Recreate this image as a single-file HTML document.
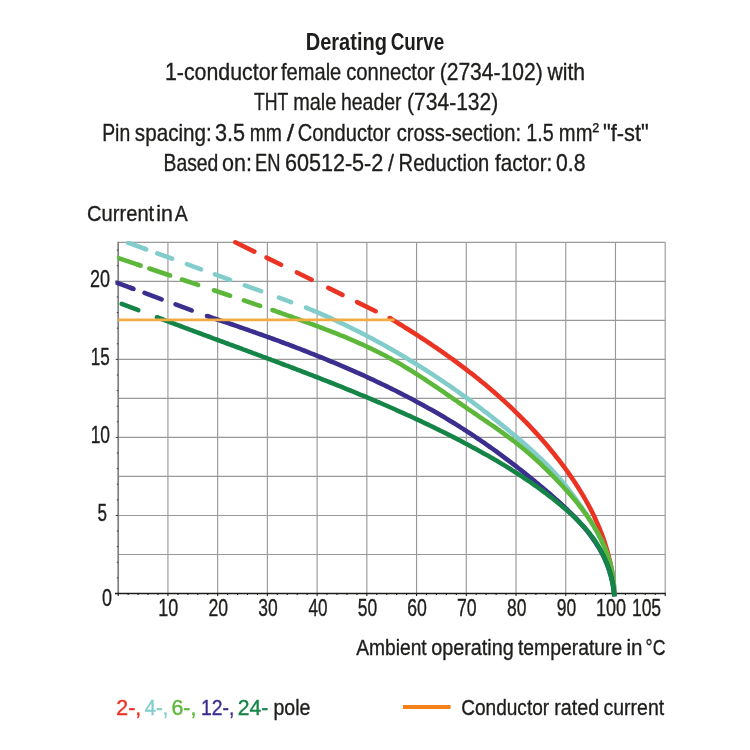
<!DOCTYPE html>
<html lang="en">
<head>
<meta charset="utf-8">
<title>Derating Curve</title>
<style>
html,body{margin:0;padding:0;background:#fff;}
body{width:750px;height:750px;overflow:hidden;}
svg{display:block;will-change:transform;}
svg text{font-family:"Liberation Sans",Arial,Helvetica,sans-serif;}
</style>
</head>
<body>
<svg width="750" height="750" viewBox="0 0 750 750">
<rect x="0" y="0" width="750" height="750" fill="#ffffff"/>
<g id="grid" stroke="#999999" stroke-width="1.15" fill="none">
<line x1="167.93" y1="242.30" x2="167.93" y2="593.50"/>
<line x1="217.65" y1="242.30" x2="217.65" y2="593.50"/>
<line x1="267.38" y1="242.30" x2="267.38" y2="593.50"/>
<line x1="317.11" y1="242.30" x2="317.11" y2="593.50"/>
<line x1="366.84" y1="242.30" x2="366.84" y2="593.50"/>
<line x1="416.56" y1="242.30" x2="416.56" y2="593.50"/>
<line x1="466.29" y1="242.30" x2="466.29" y2="593.50"/>
<line x1="516.02" y1="242.30" x2="516.02" y2="593.50"/>
<line x1="565.75" y1="242.30" x2="565.75" y2="593.50"/>
<line x1="615.47" y1="242.30" x2="615.47" y2="593.50"/>
<line x1="665.20" y1="242.30" x2="665.20" y2="593.50"/>
<line x1="118.20" y1="242.30" x2="665.20" y2="242.30"/>
<line x1="118.20" y1="281.32" x2="665.20" y2="281.32"/>
<line x1="118.20" y1="320.34" x2="665.20" y2="320.34"/>
<line x1="118.20" y1="359.37" x2="665.20" y2="359.37"/>
<line x1="118.20" y1="398.39" x2="665.20" y2="398.39"/>
<line x1="118.20" y1="437.41" x2="665.20" y2="437.41"/>
<line x1="118.20" y1="476.43" x2="665.20" y2="476.43"/>
<line x1="118.20" y1="515.46" x2="665.20" y2="515.46"/>
<line x1="118.20" y1="554.48" x2="665.20" y2="554.48"/>
</g>
<g id="axes" fill="none">
<line x1="118.20" y1="241.70" x2="118.20" y2="594.20" stroke="#808080" stroke-width="1.7"/>
<g stroke="#3a3a3a" stroke-width="1">
<line x1="115.80" y1="593.50" x2="118.20" y2="593.50"/>
<line x1="116.80" y1="577.89" x2="118.20" y2="577.89"/>
<line x1="116.80" y1="562.28" x2="118.20" y2="562.28"/>
<line x1="116.80" y1="546.67" x2="118.20" y2="546.67"/>
<line x1="116.80" y1="531.06" x2="118.20" y2="531.06"/>
<line x1="115.80" y1="515.46" x2="118.20" y2="515.46"/>
<line x1="116.80" y1="499.85" x2="118.20" y2="499.85"/>
<line x1="116.80" y1="484.24" x2="118.20" y2="484.24"/>
<line x1="116.80" y1="468.63" x2="118.20" y2="468.63"/>
<line x1="116.80" y1="453.02" x2="118.20" y2="453.02"/>
<line x1="115.80" y1="437.41" x2="118.20" y2="437.41"/>
<line x1="116.80" y1="421.80" x2="118.20" y2="421.80"/>
<line x1="116.80" y1="406.19" x2="118.20" y2="406.19"/>
<line x1="116.80" y1="390.58" x2="118.20" y2="390.58"/>
<line x1="116.80" y1="374.98" x2="118.20" y2="374.98"/>
<line x1="115.80" y1="359.37" x2="118.20" y2="359.37"/>
<line x1="116.80" y1="343.76" x2="118.20" y2="343.76"/>
<line x1="116.80" y1="328.15" x2="118.20" y2="328.15"/>
<line x1="116.80" y1="312.54" x2="118.20" y2="312.54"/>
<line x1="116.80" y1="296.93" x2="118.20" y2="296.93"/>
<line x1="115.80" y1="281.32" x2="118.20" y2="281.32"/>
<line x1="116.80" y1="265.71" x2="118.20" y2="265.71"/>
<line x1="116.80" y1="250.10" x2="118.20" y2="250.10"/>
</g>
<line x1="115.00" y1="593.50" x2="665.80" y2="593.50" stroke="#1d1d1b" stroke-width="1.4"/>
<g stroke="#1d1d1b" stroke-width="1.1">
<line x1="118.20" y1="593.50" x2="118.20" y2="595.90"/>
<line x1="128.15" y1="593.50" x2="128.15" y2="595.00"/>
<line x1="138.09" y1="593.50" x2="138.09" y2="595.00"/>
<line x1="148.04" y1="593.50" x2="148.04" y2="595.00"/>
<line x1="157.98" y1="593.50" x2="157.98" y2="595.00"/>
<line x1="167.93" y1="593.50" x2="167.93" y2="595.90"/>
<line x1="177.87" y1="593.50" x2="177.87" y2="595.00"/>
<line x1="187.82" y1="593.50" x2="187.82" y2="595.00"/>
<line x1="197.76" y1="593.50" x2="197.76" y2="595.00"/>
<line x1="207.71" y1="593.50" x2="207.71" y2="595.00"/>
<line x1="217.65" y1="593.50" x2="217.65" y2="595.90"/>
<line x1="227.60" y1="593.50" x2="227.60" y2="595.00"/>
<line x1="237.55" y1="593.50" x2="237.55" y2="595.00"/>
<line x1="247.49" y1="593.50" x2="247.49" y2="595.00"/>
<line x1="257.44" y1="593.50" x2="257.44" y2="595.00"/>
<line x1="267.38" y1="593.50" x2="267.38" y2="595.90"/>
<line x1="277.33" y1="593.50" x2="277.33" y2="595.00"/>
<line x1="287.27" y1="593.50" x2="287.27" y2="595.00"/>
<line x1="297.22" y1="593.50" x2="297.22" y2="595.00"/>
<line x1="307.16" y1="593.50" x2="307.16" y2="595.00"/>
<line x1="317.11" y1="593.50" x2="317.11" y2="595.90"/>
<line x1="327.05" y1="593.50" x2="327.05" y2="595.00"/>
<line x1="337.00" y1="593.50" x2="337.00" y2="595.00"/>
<line x1="346.95" y1="593.50" x2="346.95" y2="595.00"/>
<line x1="356.89" y1="593.50" x2="356.89" y2="595.00"/>
<line x1="366.84" y1="593.50" x2="366.84" y2="595.90"/>
<line x1="376.78" y1="593.50" x2="376.78" y2="595.00"/>
<line x1="386.73" y1="593.50" x2="386.73" y2="595.00"/>
<line x1="396.67" y1="593.50" x2="396.67" y2="595.00"/>
<line x1="406.62" y1="593.50" x2="406.62" y2="595.00"/>
<line x1="416.56" y1="593.50" x2="416.56" y2="595.90"/>
<line x1="426.51" y1="593.50" x2="426.51" y2="595.00"/>
<line x1="436.45" y1="593.50" x2="436.45" y2="595.00"/>
<line x1="446.40" y1="593.50" x2="446.40" y2="595.00"/>
<line x1="456.35" y1="593.50" x2="456.35" y2="595.00"/>
<line x1="466.29" y1="593.50" x2="466.29" y2="595.90"/>
<line x1="476.24" y1="593.50" x2="476.24" y2="595.00"/>
<line x1="486.18" y1="593.50" x2="486.18" y2="595.00"/>
<line x1="496.13" y1="593.50" x2="496.13" y2="595.00"/>
<line x1="506.07" y1="593.50" x2="506.07" y2="595.00"/>
<line x1="516.02" y1="593.50" x2="516.02" y2="595.90"/>
<line x1="525.96" y1="593.50" x2="525.96" y2="595.00"/>
<line x1="535.91" y1="593.50" x2="535.91" y2="595.00"/>
<line x1="545.85" y1="593.50" x2="545.85" y2="595.00"/>
<line x1="555.80" y1="593.50" x2="555.80" y2="595.00"/>
<line x1="565.75" y1="593.50" x2="565.75" y2="595.90"/>
<line x1="575.69" y1="593.50" x2="575.69" y2="595.00"/>
<line x1="585.64" y1="593.50" x2="585.64" y2="595.00"/>
<line x1="595.58" y1="593.50" x2="595.58" y2="595.00"/>
<line x1="605.53" y1="593.50" x2="605.53" y2="595.00"/>
<line x1="615.47" y1="593.50" x2="615.47" y2="595.90"/>
<line x1="625.42" y1="593.50" x2="625.42" y2="595.00"/>
<line x1="635.36" y1="593.50" x2="635.36" y2="595.00"/>
<line x1="645.31" y1="593.50" x2="645.31" y2="595.00"/>
<line x1="655.25" y1="593.50" x2="655.25" y2="595.00"/>
<line x1="665.20" y1="593.50" x2="665.20" y2="595.90"/>
</g>
</g>
<defs>
<clipPath id="clip-blue"><rect x="100" y="240.9" width="600" height="400"/></clipPath>
<clipPath id="clip-lgreen"><rect x="117.3" y="200" width="600" height="400"/></clipPath>
<clipPath id="clip-purple"><rect x="115.4" y="280.6" width="600" height="400"/></clipPath>
</defs>
<g id="curves">
<line x1="235.3" y1="242.3" x2="254.3" y2="251.6" stroke="#EA3323" stroke-width="4.6" stroke-linecap="round"/>
<line x1="266.5" y1="257.6" x2="281.1" y2="264.8" stroke="#EA3323" stroke-width="4.6" stroke-linecap="round"/>
<line x1="296.9" y1="272.5" x2="311.7" y2="279.8" stroke="#EA3323" stroke-width="4.6" stroke-linecap="round"/>
<line x1="328.3" y1="287.9" x2="342.5" y2="294.9" stroke="#EA3323" stroke-width="4.6" stroke-linecap="round"/>
<line x1="357.1" y1="302.1" x2="375.7" y2="311.2" stroke="#EA3323" stroke-width="4.6" stroke-linecap="round"/>
<path d="M389.6,318.0 L391.8,319.3 L393.9,320.6 L396.0,321.9 L398.2,323.2 L400.3,324.5 L402.5,325.8 L404.6,327.2 L406.7,328.5 L408.8,329.8 L411.0,331.2 L413.1,332.5 L415.2,333.9 L417.3,335.2 L419.4,336.6 L421.5,338.0 L423.6,339.3 L425.7,340.7 L427.8,342.1 L429.9,343.5 L431.9,344.9 L434.0,346.3 L436.1,347.7 L438.1,349.1 L440.2,350.5 L442.2,352.0 L444.3,353.4 L446.3,354.9 L448.4,356.3 L450.4,357.8 L452.4,359.2 L454.4,360.7 L456.4,362.2 L458.4,363.6 L460.4,365.1 L462.4,366.6 L464.4,368.1 L466.4,369.6 L468.4,371.2 L470.3,372.7 L472.3,374.2 L474.3,375.7 L476.2,377.3 L478.1,378.8 L480.1,380.4 L482.0,382.0 L483.9,383.5 L485.8,385.1 L487.7,386.7 L489.6,388.3 L491.5,389.9 L493.4,391.5 L495.3,393.2 L497.1,394.8 L499.0,396.4 L500.8,398.1 L502.7,399.8 L504.5,401.4 L506.3,403.1 L508.2,404.8 L510.0,406.5 L511.8,408.2 L513.6,409.9 L515.3,411.6 L517.1,413.3 L518.9,415.1 L520.6,416.8 L522.4,418.6 L524.1,420.3 L525.9,422.1 L527.6,423.9 L529.3,425.7 L531.0,427.5 L532.7,429.3 L534.4,431.1 L536.0,432.9 L537.7,434.7 L539.3,436.6 L541.0,438.4 L542.6,440.3 L544.2,442.2 L545.9,444.0 L547.5,445.9 L549.0,447.8 L550.6,449.7 L552.2,451.7 L553.8,453.6 L555.3,455.5 L556.8,457.5 L558.4,459.4 L559.9,461.4 L561.4,463.3 L562.9,465.3 L564.4,467.3 L565.8,469.3 L567.3,471.3 L568.7,473.4 L570.1,475.4 L571.5,477.4 L572.9,479.5 L574.3,481.5 L575.7,483.6 L577.0,485.7 L578.3,487.8 L579.6,489.9 L580.9,492.0 L582.2,494.1 L583.5,496.2 L584.7,498.3 L585.9,500.5 L587.1,502.6 L588.3,504.8 L589.4,507.0 L590.6,509.1 L591.7,511.3 L592.8,513.5 L593.9,515.7 L594.9,518.0 L595.9,520.2 L596.9,522.4 L597.9,524.7 L598.9,526.9 L599.8,529.2 L600.7,531.5 L601.6,533.7 L602.5,536.0 L603.3,538.3 L604.1,540.7 L604.9,543.0 L605.6,545.3 L606.3,547.7 L607.0,550.0 L607.7,552.4 L608.3,554.7 L608.9,557.1 L609.5,559.5 L610.1,561.9 L610.6,564.3 L611.1,566.7 L611.5,569.2 L612.0,571.6 L612.3,574.1 L612.7,576.5 L613.0,579.0 L613.3,581.5 L613.6,584.0 L613.8,586.5 L614.0,589.0 L614.2,591.5 L614.3,594.0" fill="none" stroke="#EA3323" stroke-width="4.6" stroke-linecap="butt" stroke-linejoin="round"/>
<circle cx="389.6" cy="318.0" r="2.30" fill="#EA3323"/>
<line x1="126.4" y1="242.0" x2="146.3" y2="249.3" stroke="#82CDCB" stroke-width="4.6" stroke-linecap="butt" clip-path="url(#clip-blue)"/>
<line x1="143.3" y1="248.2" x2="146.3" y2="249.3" stroke="#82CDCB" stroke-width="4.6" stroke-linecap="round"/>
<line x1="157.3" y1="253.3" x2="172.1" y2="258.7" stroke="#82CDCB" stroke-width="4.6" stroke-linecap="round"/>
<line x1="186.9" y1="264.1" x2="201.1" y2="269.3" stroke="#82CDCB" stroke-width="4.6" stroke-linecap="round"/>
<line x1="214.9" y1="274.3" x2="230.1" y2="279.9" stroke="#82CDCB" stroke-width="4.6" stroke-linecap="round"/>
<line x1="244.9" y1="285.3" x2="261.1" y2="291.2" stroke="#82CDCB" stroke-width="4.6" stroke-linecap="round"/>
<line x1="278.9" y1="297.7" x2="291.1" y2="302.2" stroke="#82CDCB" stroke-width="4.6" stroke-linecap="round"/>
<path d="M306.0,307.6 L308.3,308.5 L310.6,309.5 L312.9,310.5 L315.2,311.4 L317.5,312.4 L319.8,313.4 L322.0,314.4 L324.3,315.4 L326.6,316.4 L328.9,317.4 L331.2,318.4 L333.4,319.5 L335.7,320.5 L337.9,321.6 L340.2,322.6 L342.5,323.7 L344.7,324.8 L347.0,325.9 L349.2,327.0 L351.5,328.1 L353.7,329.2 L355.9,330.3 L358.2,331.4 L360.4,332.5 L362.6,333.7 L364.9,334.8 L367.1,336.0 L369.3,337.2 L371.5,338.3 L373.7,339.5 L375.9,340.7 L378.1,341.9 L380.3,343.1 L382.5,344.3 L384.7,345.5 L386.9,346.7 L389.1,348.0 L391.3,349.2 L393.4,350.4 L395.6,351.7 L397.8,353.0 L399.9,354.2 L402.1,355.5 L404.3,356.8 L406.4,358.1 L408.6,359.4 L410.7,360.7 L412.9,362.0 L415.0,363.3 L417.1,364.6 L419.3,365.9 L421.4,367.3 L423.5,368.6 L425.6,370.0 L427.7,371.3 L429.8,372.7 L431.9,374.0 L434.0,375.4 L436.1,376.8 L438.2,378.2 L440.3,379.6 L442.4,381.0 L444.5,382.4 L446.5,383.8 L448.6,385.2 L450.7,386.6 L452.7,388.0 L454.8,389.5 L456.8,390.9 L458.9,392.4 L460.9,393.8 L463.0,395.3 L465.0,396.7 L467.0,398.2 L469.0,399.7 L471.1,401.2 L473.1,402.6 L475.1,404.1 L477.1,405.6 L479.1,407.1 L481.1,408.6 L483.1,410.2 L485.0,411.7 L487.0,413.2 L489.0,414.7 L491.0,416.3 L492.9,417.8 L494.9,419.3 L496.8,420.9 L498.8,422.4 L500.7,424.0 L502.6,425.6 L504.6,427.1 L506.5,428.7 L508.4,430.3 L510.3,431.9 L512.2,433.5 L514.1,435.0 L516.0,436.6 L517.9,438.2 L519.8,439.8 L521.7,441.5 L523.6,443.1 L525.4,444.7 L527.3,446.3 L529.1,448.0 L531.0,449.6 L532.8,451.3 L534.6,452.9 L536.4,454.6 L538.2,456.3 L540.0,458.0 L541.8,459.7 L543.6,461.4 L545.3,463.2 L547.1,464.9 L548.8,466.7 L550.5,468.4 L552.2,470.2 L553.9,472.0 L555.5,473.8 L557.2,475.7 L558.8,477.5 L560.4,479.4 L562.0,481.3 L563.6,483.2 L565.1,485.1 L566.7,487.0 L568.2,489.0 L569.7,490.9 L571.2,492.9 L572.7,494.9 L574.2,496.9 L575.7,498.9 L577.1,500.9 L578.6,503.0 L580.0,505.0 L581.5,507.1 L582.9,509.1 L584.3,511.2 L585.7,513.3 L587.1,515.4 L588.4,517.5 L589.8,519.7 L591.1,521.8 L592.4,523.9 L593.7,526.1 L594.9,528.3 L596.1,530.5 L597.3,532.7 L598.5,534.9 L599.6,537.1 L600.7,539.3 L601.8,541.6 L602.8,543.8 L603.8,546.1 L604.8,548.4 L605.7,550.7 L606.6,553.0 L607.4,555.3 L608.2,557.7 L609.0,560.0 L609.7,562.4 L610.4,564.8 L611.0,567.2 L611.6,569.6 L612.1,572.0 L612.5,574.5 L612.9,576.9 L613.3,579.4 L613.6,581.9 L613.8,584.4 L614.0,586.9 L614.1,589.4 L614.2,591.9 L614.2,594.5" fill="none" stroke="#82CDCB" stroke-width="4.6" stroke-linecap="butt" stroke-linejoin="round"/>
<circle cx="306.0" cy="307.6" r="2.30" fill="#82CDCB"/>
<line x1="116.0" y1="257.3" x2="140.7" y2="265.6" stroke="#5CB73A" stroke-width="4.6" stroke-linecap="butt" clip-path="url(#clip-lgreen)"/>
<line x1="137.7" y1="264.6" x2="140.7" y2="265.6" stroke="#5CB73A" stroke-width="4.6" stroke-linecap="round"/>
<line x1="149.3" y1="268.5" x2="170.1" y2="275.5" stroke="#5CB73A" stroke-width="4.6" stroke-linecap="round"/>
<line x1="181.9" y1="279.5" x2="198.1" y2="284.9" stroke="#5CB73A" stroke-width="4.6" stroke-linecap="round"/>
<line x1="213.9" y1="290.3" x2="230.1" y2="295.7" stroke="#5CB73A" stroke-width="4.6" stroke-linecap="round"/>
<line x1="243.9" y1="300.4" x2="260.1" y2="305.9" stroke="#5CB73A" stroke-width="4.6" stroke-linecap="round"/>
<path d="M272.4,310.0 L274.8,310.8 L277.1,311.7 L279.5,312.5 L281.8,313.4 L284.2,314.2 L286.6,315.1 L288.9,315.9 L291.3,316.7 L293.7,317.6 L296.0,318.4 L298.4,319.3 L300.8,320.1 L303.1,321.0 L305.5,321.8 L307.8,322.7 L310.2,323.6 L312.6,324.4 L314.9,325.3 L317.3,326.2 L319.6,327.1 L322.0,328.0 L324.4,328.9 L326.7,329.8 L329.0,330.7 L331.4,331.6 L333.7,332.5 L336.1,333.4 L338.4,334.3 L340.7,335.3 L343.1,336.2 L345.4,337.2 L347.7,338.2 L350.0,339.1 L352.3,340.1 L354.6,341.1 L356.9,342.1 L359.2,343.1 L361.5,344.2 L363.8,345.2 L366.1,346.3 L368.3,347.3 L370.6,348.4 L372.9,349.5 L375.1,350.6 L377.4,351.7 L379.6,352.8 L381.8,354.0 L384.1,355.1 L386.3,356.3 L388.5,357.5 L390.7,358.6 L392.9,359.9 L395.1,361.1 L397.2,362.3 L399.4,363.6 L401.6,364.8 L403.7,366.1 L405.9,367.4 L408.0,368.7 L410.1,370.0 L412.3,371.3 L414.4,372.7 L416.5,374.0 L418.6,375.4 L420.7,376.7 L422.9,378.1 L425.0,379.5 L427.0,380.9 L429.1,382.3 L431.2,383.7 L433.3,385.1 L435.4,386.5 L437.5,387.9 L439.6,389.3 L441.6,390.7 L443.7,392.1 L445.8,393.6 L447.9,395.0 L449.9,396.4 L452.0,397.8 L454.1,399.3 L456.1,400.7 L458.2,402.1 L460.3,403.6 L462.3,405.0 L464.4,406.4 L466.5,407.8 L468.5,409.3 L470.6,410.7 L472.7,412.1 L474.8,413.5 L476.8,414.9 L478.9,416.3 L481.0,417.8 L483.0,419.2 L485.1,420.6 L487.2,422.0 L489.2,423.4 L491.3,424.8 L493.3,426.2 L495.4,427.7 L497.4,429.1 L499.5,430.5 L501.5,432.0 L503.5,433.4 L505.5,434.9 L507.5,436.3 L509.5,437.8 L511.5,439.3 L513.5,440.8 L515.4,442.3 L517.4,443.8 L519.3,445.4 L521.2,446.9 L523.1,448.5 L525.0,450.1 L526.9,451.7 L528.8,453.3 L530.6,454.9 L532.5,456.5 L534.3,458.2 L536.2,459.9 L538.0,461.5 L539.8,463.2 L541.6,464.9 L543.4,466.7 L545.2,468.4 L547.0,470.1 L548.8,471.9 L550.5,473.6 L552.3,475.4 L554.1,477.2 L555.8,479.0 L557.6,480.8 L559.3,482.6 L561.1,484.5 L562.8,486.3 L564.5,488.2 L566.2,490.1 L567.9,492.0 L569.6,493.9 L571.3,495.8 L572.9,497.7 L574.5,499.6 L576.2,501.6 L577.8,503.6 L579.3,505.5 L580.9,507.5 L582.4,509.5 L583.9,511.6 L585.4,513.6 L586.9,515.6 L588.3,517.7 L589.7,519.8 L591.1,521.9 L592.4,524.0 L593.7,526.1 L595.0,528.2 L596.3,530.4 L597.5,532.5 L598.7,534.7 L599.8,536.9 L601.0,539.1 L602.0,541.4 L603.1,543.6 L604.1,545.9 L605.0,548.1 L605.9,550.4 L606.8,552.7 L607.7,555.0 L608.4,557.4 L609.2,559.7 L609.9,562.1 L610.5,564.5 L611.1,566.9 L611.7,569.3 L612.2,571.8 L612.6,574.2 L613.0,576.7 L613.3,579.2 L613.6,581.7 L613.9,584.2 L614.0,586.8 L614.1,589.3 L614.2,591.9 L614.2,594.5" fill="none" stroke="#5CB73A" stroke-width="4.6" stroke-linecap="butt" stroke-linejoin="round"/>
<circle cx="272.4" cy="310.0" r="2.30" fill="#5CB73A"/>
<line x1="113.9" y1="281.6" x2="133.5" y2="288.9" stroke="#3A2E8E" stroke-width="4.6" stroke-linecap="butt" clip-path="url(#clip-purple)"/>
<line x1="130.5" y1="287.8" x2="133.5" y2="288.9" stroke="#3A2E8E" stroke-width="4.6" stroke-linecap="round"/>
<line x1="144.5" y1="292.9" x2="161.7" y2="299.3" stroke="#3A2E8E" stroke-width="4.6" stroke-linecap="round"/>
<line x1="175.5" y1="304.4" x2="191.7" y2="310.4" stroke="#3A2E8E" stroke-width="4.6" stroke-linecap="round"/>
<path d="M207.0,316.0 L209.4,316.8 L211.7,317.6 L214.1,318.4 L216.5,319.2 L218.9,320.0 L221.2,320.8 L223.6,321.6 L226.0,322.4 L228.3,323.2 L230.7,324.0 L233.1,324.8 L235.5,325.6 L237.8,326.4 L240.2,327.3 L242.6,328.1 L244.9,328.9 L247.3,329.7 L249.7,330.6 L252.0,331.4 L254.4,332.2 L256.8,333.1 L259.1,333.9 L261.5,334.7 L263.9,335.6 L266.2,336.4 L268.6,337.3 L271.0,338.1 L273.3,339.0 L275.7,339.9 L278.0,340.7 L280.4,341.6 L282.8,342.5 L285.1,343.4 L287.5,344.2 L289.8,345.1 L292.2,346.0 L294.5,346.9 L296.9,347.8 L299.2,348.7 L301.6,349.6 L303.9,350.5 L306.2,351.4 L308.6,352.3 L310.9,353.3 L313.2,354.2 L315.6,355.1 L317.9,356.1 L320.2,357.0 L322.6,357.9 L324.9,358.9 L327.2,359.8 L329.5,360.8 L331.9,361.8 L334.2,362.7 L336.5,363.7 L338.8,364.7 L341.1,365.7 L343.4,366.6 L345.7,367.6 L348.0,368.6 L350.3,369.6 L352.6,370.6 L354.9,371.6 L357.2,372.7 L359.5,373.7 L361.8,374.7 L364.1,375.7 L366.4,376.8 L368.6,377.8 L370.9,378.9 L373.2,379.9 L375.4,381.0 L377.7,382.1 L380.0,383.1 L382.2,384.2 L384.5,385.3 L386.7,386.4 L389.0,387.5 L391.2,388.6 L393.5,389.7 L395.7,390.8 L398.0,392.0 L400.2,393.1 L402.4,394.2 L404.6,395.4 L406.9,396.5 L409.1,397.7 L411.3,398.8 L413.5,400.0 L415.7,401.2 L417.9,402.4 L420.1,403.6 L422.3,404.7 L424.5,406.0 L426.7,407.2 L428.8,408.4 L431.0,409.6 L433.2,410.8 L435.4,412.1 L437.5,413.3 L439.7,414.6 L441.8,415.8 L444.0,417.1 L446.1,418.4 L448.3,419.7 L450.4,421.0 L452.5,422.3 L454.7,423.6 L456.8,424.9 L458.9,426.2 L461.0,427.6 L463.1,428.9 L465.2,430.2 L467.3,431.6 L469.4,433.0 L471.5,434.3 L473.6,435.7 L475.6,437.1 L477.7,438.5 L479.8,439.9 L481.8,441.3 L483.9,442.7 L485.9,444.2 L488.0,445.6 L490.0,447.0 L492.1,448.5 L494.1,449.9 L496.2,451.4 L498.2,452.9 L500.2,454.3 L502.2,455.8 L504.2,457.3 L506.2,458.8 L508.2,460.3 L510.2,461.8 L512.2,463.4 L514.2,464.9 L516.2,466.4 L518.2,468.0 L520.2,469.5 L522.2,471.1 L524.1,472.6 L526.1,474.2 L528.1,475.8 L530.0,477.4 L532.0,479.0 L534.0,480.6 L535.9,482.2 L537.9,483.8 L539.8,485.4 L541.7,487.0 L543.7,488.7 L545.6,490.3 L547.5,491.9 L549.5,493.6 L551.4,495.2 L553.3,496.9 L555.2,498.6 L557.1,500.3 L559.0,502.0 L560.9,503.7 L562.7,505.4 L564.6,507.1 L566.4,508.8 L568.2,510.6 L570.0,512.3 L571.8,514.1 L573.6,515.9 L575.3,517.7 L577.1,519.5 L578.8,521.3 L580.4,523.2 L582.1,525.1 L583.7,526.9 L585.3,528.8 L586.9,530.7 L588.4,532.7 L589.9,534.6 L591.4,536.6 L592.8,538.6 L594.2,540.6 L595.6,542.6 L596.9,544.7 L598.2,546.8 L599.5,548.9 L600.7,551.0 L601.9,553.1 L603.0,555.3 L604.1,557.5 L605.1,559.7 L606.1,562.0 L607.0,564.2 L607.9,566.5 L608.8,568.9 L609.6,571.2 L610.3,573.6 L611.0,576.0 L611.6,578.4 L612.2,580.9 L612.7,583.4 L613.2,585.9 L613.6,588.5 L613.9,591.1 L614.2,593.7 L614.4,596.4" fill="none" stroke="#3A2E8E" stroke-width="4.6" stroke-linecap="butt" stroke-linejoin="round"/>
<circle cx="207.0" cy="316.0" r="2.30" fill="#3A2E8E"/>
<line x1="121.7" y1="303.8" x2="138.3" y2="310.1" stroke="#148447" stroke-width="4.6" stroke-linecap="round"/>
<path d="M157.0,317.2 L159.3,318.1 L161.7,319.0 L164.0,319.9 L166.3,320.8 L168.6,321.6 L171.0,322.5 L173.3,323.4 L175.6,324.3 L178.0,325.2 L180.3,326.0 L182.6,326.9 L185.0,327.8 L187.3,328.7 L189.7,329.6 L192.0,330.4 L194.3,331.3 L196.7,332.2 L199.0,333.0 L201.4,333.9 L203.7,334.8 L206.1,335.7 L208.4,336.5 L210.8,337.4 L213.1,338.3 L215.4,339.1 L217.8,340.0 L220.1,340.9 L222.5,341.7 L224.8,342.6 L227.2,343.5 L229.5,344.4 L231.9,345.2 L234.3,346.1 L236.6,347.0 L239.0,347.8 L241.3,348.7 L243.7,349.6 L246.0,350.4 L248.4,351.3 L250.7,352.2 L253.1,353.1 L255.4,353.9 L257.8,354.8 L260.1,355.7 L262.5,356.6 L264.8,357.4 L267.2,358.3 L269.5,359.2 L271.9,360.1 L274.2,360.9 L276.6,361.8 L278.9,362.7 L281.3,363.6 L283.6,364.5 L286.0,365.4 L288.3,366.2 L290.7,367.1 L293.0,368.0 L295.4,368.9 L297.7,369.8 L300.1,370.7 L302.4,371.6 L304.8,372.5 L307.1,373.4 L309.5,374.3 L311.8,375.2 L314.1,376.1 L316.5,377.0 L318.8,377.9 L321.2,378.8 L323.5,379.8 L325.8,380.7 L328.2,381.6 L330.5,382.5 L332.8,383.4 L335.2,384.4 L337.5,385.3 L339.8,386.2 L342.2,387.2 L344.5,388.1 L346.8,389.1 L349.1,390.0 L351.4,390.9 L353.8,391.9 L356.1,392.8 L358.4,393.8 L360.7,394.8 L363.0,395.7 L365.3,396.7 L367.7,397.7 L370.0,398.6 L372.3,399.6 L374.6,400.6 L376.9,401.6 L379.2,402.5 L381.5,403.5 L383.8,404.5 L386.1,405.5 L388.4,406.5 L390.7,407.5 L393.0,408.5 L395.2,409.5 L397.5,410.6 L399.8,411.6 L402.1,412.6 L404.4,413.6 L406.7,414.7 L408.9,415.7 L411.2,416.7 L413.5,417.8 L415.7,418.8 L418.0,419.9 L420.3,420.9 L422.5,422.0 L424.8,423.1 L427.0,424.2 L429.3,425.2 L431.5,426.3 L433.8,427.4 L436.0,428.5 L438.3,429.6 L440.5,430.7 L442.7,431.8 L445.0,432.9 L447.2,434.0 L449.4,435.1 L451.7,436.3 L453.9,437.4 L456.1,438.5 L458.3,439.7 L460.5,440.8 L462.7,442.0 L464.9,443.2 L467.1,444.3 L469.3,445.5 L471.5,446.7 L473.7,447.9 L475.9,449.0 L478.1,450.2 L480.3,451.4 L482.5,452.7 L484.6,453.9 L486.8,455.1 L489.0,456.3 L491.1,457.6 L493.3,458.8 L495.4,460.1 L497.6,461.3 L499.7,462.6 L501.8,463.9 L504.0,465.1 L506.1,466.4 L508.2,467.7 L510.3,469.0 L512.4,470.4 L514.5,471.7 L516.6,473.0 L518.7,474.4 L520.8,475.7 L522.9,477.1 L524.9,478.5 L527.0,479.9 L529.0,481.2 L531.1,482.7 L533.1,484.1 L535.1,485.5 L537.2,486.9 L539.2,488.4 L541.2,489.8 L543.2,491.3 L545.2,492.8 L547.1,494.3 L549.1,495.8 L551.1,497.3 L553.0,498.8 L555.0,500.4 L556.9,501.9 L558.8,503.5 L560.7,505.1 L562.6,506.7 L564.5,508.3 L566.4,509.9 L568.3,511.6 L570.1,513.2 L571.9,514.9 L573.8,516.6 L575.6,518.3 L577.3,520.0 L579.1,521.8 L580.8,523.5 L582.5,525.3 L584.2,527.1 L585.8,529.0 L587.4,530.8 L589.0,532.7 L590.5,534.7 L592.0,536.6 L593.4,538.6 L594.8,540.6 L596.2,542.6 L597.5,544.7 L598.7,546.8 L600.0,548.9 L601.1,551.1 L602.2,553.3 L603.3,555.5 L604.3,557.7 L605.3,560.0 L606.2,562.3 L607.1,564.6 L608.0,566.9 L608.8,569.3 L609.5,571.7 L610.2,574.1 L610.9,576.5 L611.5,578.9 L612.0,581.4 L612.5,583.9 L613.0,586.4 L613.4,588.9 L613.8,591.5 L614.1,594.0 L614.4,596.6" fill="none" stroke="#148447" stroke-width="4.6" stroke-linecap="butt" stroke-linejoin="round"/>
<circle cx="157.0" cy="317.2" r="2.30" fill="#148447"/>
</g>
<line id="rated" x1="118.20" y1="319.8" x2="394.6" y2="319.8" stroke="#F3AC43" stroke-width="2.7"/>
<line id="legend-line" x1="403" y1="706.9" x2="450.6" y2="706.9" stroke="#F68019" stroke-width="4"/>
<g id="labels" stroke-width="0.35" stroke-linejoin="round">
<text font-weight="bold"><tspan x="305.75" y="50.00" font-size="24" fill="#1d1d1b" stroke="none" textLength="81.19" lengthAdjust="spacingAndGlyphs">Derating</tspan> <tspan x="390.72" y="50.00" font-size="24" fill="#1d1d1b" stroke="none" textLength="53.40" lengthAdjust="spacingAndGlyphs">Curve</tspan></text>
<text font-weight="normal"><tspan x="164.94" y="79.70" font-size="24" fill="#1d1d1b" stroke="#1d1d1b" textLength="112.70" lengthAdjust="spacingAndGlyphs">1-conductor</tspan> <tspan x="280.99" y="79.70" font-size="24" fill="#1d1d1b" stroke="#1d1d1b" textLength="60.29" lengthAdjust="spacingAndGlyphs">female</tspan> <tspan x="346.16" y="79.70" font-size="24" fill="#1d1d1b" stroke="#1d1d1b" textLength="88.68" lengthAdjust="spacingAndGlyphs">connector</tspan> <tspan x="439.68" y="79.70" font-size="24" fill="#1d1d1b" stroke="#1d1d1b" textLength="103.06" lengthAdjust="spacingAndGlyphs">(2734-102)</tspan> <tspan x="547.50" y="79.70" font-size="24" fill="#1d1d1b" stroke="#1d1d1b" textLength="37.59" lengthAdjust="spacingAndGlyphs">with</tspan></text>
<text font-weight="normal"><tspan x="253.93" y="110.30" font-size="24" fill="#1d1d1b" stroke="#1d1d1b" textLength="34.45" lengthAdjust="spacingAndGlyphs">THT</tspan> <tspan x="293.16" y="110.30" font-size="24" fill="#1d1d1b" stroke="#1d1d1b" textLength="43.10" lengthAdjust="spacingAndGlyphs">male</tspan> <tspan x="340.98" y="110.30" font-size="24" fill="#1d1d1b" stroke="#1d1d1b" textLength="60.51" lengthAdjust="spacingAndGlyphs">header</tspan> <tspan x="407.09" y="110.30" font-size="24" fill="#1d1d1b" stroke="#1d1d1b" textLength="91.18" lengthAdjust="spacingAndGlyphs">(734-132)</tspan></text>
<text font-weight="normal"><tspan x="102.19" y="140.90" font-size="24" fill="#1d1d1b" stroke="#1d1d1b" textLength="27.97" lengthAdjust="spacingAndGlyphs">Pin</tspan> <tspan x="134.85" y="140.90" font-size="24" fill="#1d1d1b" stroke="#1d1d1b" textLength="76.89" lengthAdjust="spacingAndGlyphs">spacing:</tspan> <tspan x="215.00" y="140.90" font-size="24" fill="#1d1d1b" stroke="#1d1d1b" textLength="30.01" lengthAdjust="spacingAndGlyphs">3.5</tspan> <tspan x="249.69" y="140.90" font-size="24" fill="#1d1d1b" stroke="#1d1d1b" textLength="32.31" lengthAdjust="spacingAndGlyphs">mm</tspan> <tspan x="286.80" y="140.90" font-size="24" fill="#1d1d1b" stroke="#1d1d1b" textLength="7.39" lengthAdjust="spacingAndGlyphs">/</tspan> <tspan x="297.75" y="140.90" font-size="24" fill="#1d1d1b" stroke="#1d1d1b" textLength="92.65" lengthAdjust="spacingAndGlyphs">Conductor</tspan> <tspan x="396.76" y="140.90" font-size="24" fill="#1d1d1b" stroke="#1d1d1b" textLength="124.37" lengthAdjust="spacingAndGlyphs">cross-section:</tspan> <tspan x="526.36" y="140.90" font-size="24" fill="#1d1d1b" stroke="#1d1d1b" textLength="27.47" lengthAdjust="spacingAndGlyphs">1.5</tspan> <tspan x="558.84" y="140.90" font-size="24" fill="#1d1d1b" stroke="#1d1d1b" textLength="33.61" lengthAdjust="spacingAndGlyphs">mm</tspan><tspan x="592.53" y="138.40" font-size="21.1" fill="#1d1d1b" stroke="#1d1d1b" textLength="6.56" lengthAdjust="spacingAndGlyphs">²</tspan> <tspan x="602.99" y="140.90" font-size="24" fill="#1d1d1b" stroke="#1d1d1b" textLength="45.73" lengthAdjust="spacingAndGlyphs">"f-st"</tspan></text>
<text font-weight="normal"><tspan x="163.59" y="171.40" font-size="24" fill="#1d1d1b" stroke="#1d1d1b" textLength="54.77" lengthAdjust="spacingAndGlyphs">Based</tspan> <tspan x="222.00" y="171.40" font-size="24" fill="#1d1d1b" stroke="#1d1d1b" textLength="29.90" lengthAdjust="spacingAndGlyphs">on:</tspan> <tspan x="254.98" y="171.40" font-size="24" fill="#1d1d1b" stroke="#1d1d1b" textLength="25.42" lengthAdjust="spacingAndGlyphs">EN</tspan> <tspan x="284.88" y="171.40" font-size="24" fill="#1d1d1b" stroke="#1d1d1b" textLength="98.38" lengthAdjust="spacingAndGlyphs">60512-5-2</tspan> <tspan x="388.00" y="171.40" font-size="24" fill="#1d1d1b" stroke="#1d1d1b" textLength="5.95" lengthAdjust="spacingAndGlyphs">/</tspan> <tspan x="398.62" y="171.40" font-size="24" fill="#1d1d1b" stroke="#1d1d1b" textLength="90.70" lengthAdjust="spacingAndGlyphs">Reduction</tspan> <tspan x="494.99" y="171.40" font-size="24" fill="#1d1d1b" stroke="#1d1d1b" textLength="57.31" lengthAdjust="spacingAndGlyphs">factor:</tspan> <tspan x="556.02" y="171.40" font-size="24" fill="#1d1d1b" stroke="#1d1d1b" textLength="29.48" lengthAdjust="spacingAndGlyphs">0.8</tspan></text>
<text font-weight="normal"><tspan x="87.08" y="221.30" font-size="21.8" fill="#1d1d1b" stroke="#1d1d1b" textLength="67.10" lengthAdjust="spacingAndGlyphs">Current</tspan> <tspan x="156.33" y="221.30" font-size="21.8" fill="#1d1d1b" stroke="#1d1d1b" textLength="16.61" lengthAdjust="spacingAndGlyphs">in</tspan> <tspan x="174.70" y="221.30" font-size="21.8" fill="#1d1d1b" stroke="#1d1d1b" textLength="12.94" lengthAdjust="spacingAndGlyphs">A</tspan></text>
<text font-weight="normal"><tspan x="356.20" y="655.20" font-size="21.8" fill="#1d1d1b" stroke="#1d1d1b" textLength="70.49" lengthAdjust="spacingAndGlyphs">Ambient</tspan> <tspan x="431.19" y="655.20" font-size="21.8" fill="#1d1d1b" stroke="#1d1d1b" textLength="82.48" lengthAdjust="spacingAndGlyphs">operating</tspan> <tspan x="517.98" y="655.20" font-size="21.8" fill="#1d1d1b" stroke="#1d1d1b" textLength="104.34" lengthAdjust="spacingAndGlyphs">temperature</tspan> <tspan x="626.39" y="655.20" font-size="21.8" fill="#1d1d1b" stroke="#1d1d1b" textLength="16.00" lengthAdjust="spacingAndGlyphs">in</tspan> <tspan x="645.58" y="655.20" font-size="21.8" fill="#1d1d1b" stroke="#1d1d1b" textLength="19.90" lengthAdjust="spacingAndGlyphs">°C</tspan></text>
<text font-weight="normal"><tspan x="461.15" y="714.70" font-size="22.8" fill="#1d1d1b" stroke="#1d1d1b" textLength="88.01" lengthAdjust="spacingAndGlyphs">Conductor</tspan> <tspan x="554.30" y="714.70" font-size="22.8" fill="#1d1d1b" stroke="#1d1d1b" textLength="44.97" lengthAdjust="spacingAndGlyphs">rated</tspan> <tspan x="603.55" y="714.70" font-size="22.8" fill="#1d1d1b" stroke="#1d1d1b" textLength="60.63" lengthAdjust="spacingAndGlyphs">current</tspan></text>
<text font-weight="normal"><tspan x="116.27" y="714.80" font-size="21.8" fill="#EA3323" stroke="#EA3323" textLength="24.93" lengthAdjust="spacingAndGlyphs">2-,</tspan> <tspan x="144.74" y="714.80" font-size="21.8" fill="#82CDCB" stroke="#82CDCB" textLength="23.56" lengthAdjust="spacingAndGlyphs">4-,</tspan> <tspan x="171.42" y="714.80" font-size="21.8" fill="#5CB73A" stroke="#5CB73A" textLength="24.99" lengthAdjust="spacingAndGlyphs">6-,</tspan> <tspan x="200.94" y="714.80" font-size="21.8" fill="#3A2E8E" stroke="#3A2E8E" textLength="33.39" lengthAdjust="spacingAndGlyphs">12-,</tspan> <tspan x="237.63" y="714.80" font-size="21.8" fill="#148447" stroke="#148447" textLength="30.55" lengthAdjust="spacingAndGlyphs">24-</tspan> <tspan x="273.46" y="714.80" font-size="21.8" fill="#1d1d1b" stroke="#1d1d1b" textLength="36.91" lengthAdjust="spacingAndGlyphs">pole</tspan></text>
<text font-weight="normal" x="90.04" y="286.50" font-size="23.4" fill="#1d1d1b" stroke="#1d1d1b" textLength="20.06" lengthAdjust="spacingAndGlyphs">20</text>
<text font-weight="normal" x="90.72" y="364.60" font-size="23.4" fill="#1d1d1b" stroke="#1d1d1b" textLength="19.03" lengthAdjust="spacingAndGlyphs">15</text>
<text font-weight="normal" x="90.70" y="442.70" font-size="23.4" fill="#1d1d1b" stroke="#1d1d1b" textLength="19.37" lengthAdjust="spacingAndGlyphs">10</text>
<text font-weight="normal" x="97.57" y="520.90" font-size="23.4" fill="#1d1d1b" stroke="#1d1d1b" textLength="9.47" lengthAdjust="spacingAndGlyphs">5</text>
<text font-weight="normal" x="101.94" y="605.70" font-size="23.5" fill="#1d1d1b" stroke="#1d1d1b" textLength="10.00" lengthAdjust="spacingAndGlyphs">0</text>
<text font-weight="normal" x="158.29" y="615.70" font-size="23.5" fill="#1d1d1b" stroke="#1d1d1b" textLength="20.02" lengthAdjust="spacingAndGlyphs">10</text>
<text font-weight="normal" x="208.42" y="615.70" font-size="23.5" fill="#1d1d1b" stroke="#1d1d1b" textLength="19.61" lengthAdjust="spacingAndGlyphs">20</text>
<text font-weight="normal" x="258.34" y="615.70" font-size="23.5" fill="#1d1d1b" stroke="#1d1d1b" textLength="19.40" lengthAdjust="spacingAndGlyphs">30</text>
<text font-weight="normal" x="308.44" y="615.70" font-size="23.5" fill="#1d1d1b" stroke="#1d1d1b" textLength="19.01" lengthAdjust="spacingAndGlyphs">40</text>
<text font-weight="normal" x="357.79" y="615.70" font-size="23.5" fill="#1d1d1b" stroke="#1d1d1b" textLength="19.40" lengthAdjust="spacingAndGlyphs">50</text>
<text font-weight="normal" x="407.32" y="615.70" font-size="23.5" fill="#1d1d1b" stroke="#1d1d1b" textLength="19.61" lengthAdjust="spacingAndGlyphs">60</text>
<text font-weight="normal" x="457.05" y="615.70" font-size="23.5" fill="#1d1d1b" stroke="#1d1d1b" textLength="19.61" lengthAdjust="spacingAndGlyphs">70</text>
<text font-weight="normal" x="506.97" y="615.70" font-size="23.5" fill="#1d1d1b" stroke="#1d1d1b" textLength="19.40" lengthAdjust="spacingAndGlyphs">80</text>
<text font-weight="normal" x="556.70" y="615.70" font-size="23.5" fill="#1d1d1b" stroke="#1d1d1b" textLength="19.40" lengthAdjust="spacingAndGlyphs">90</text>
<text font-weight="normal" x="595.96" y="615.70" font-size="23.5" fill="#1d1d1b" stroke="#1d1d1b" textLength="29.98" lengthAdjust="spacingAndGlyphs">100</text>
<text font-weight="normal" x="631.90" y="615.70" font-size="23.5" fill="#1d1d1b" stroke="#1d1d1b" textLength="29.23" lengthAdjust="spacingAndGlyphs">105</text>
</g>
</svg>
</body>
</html>
